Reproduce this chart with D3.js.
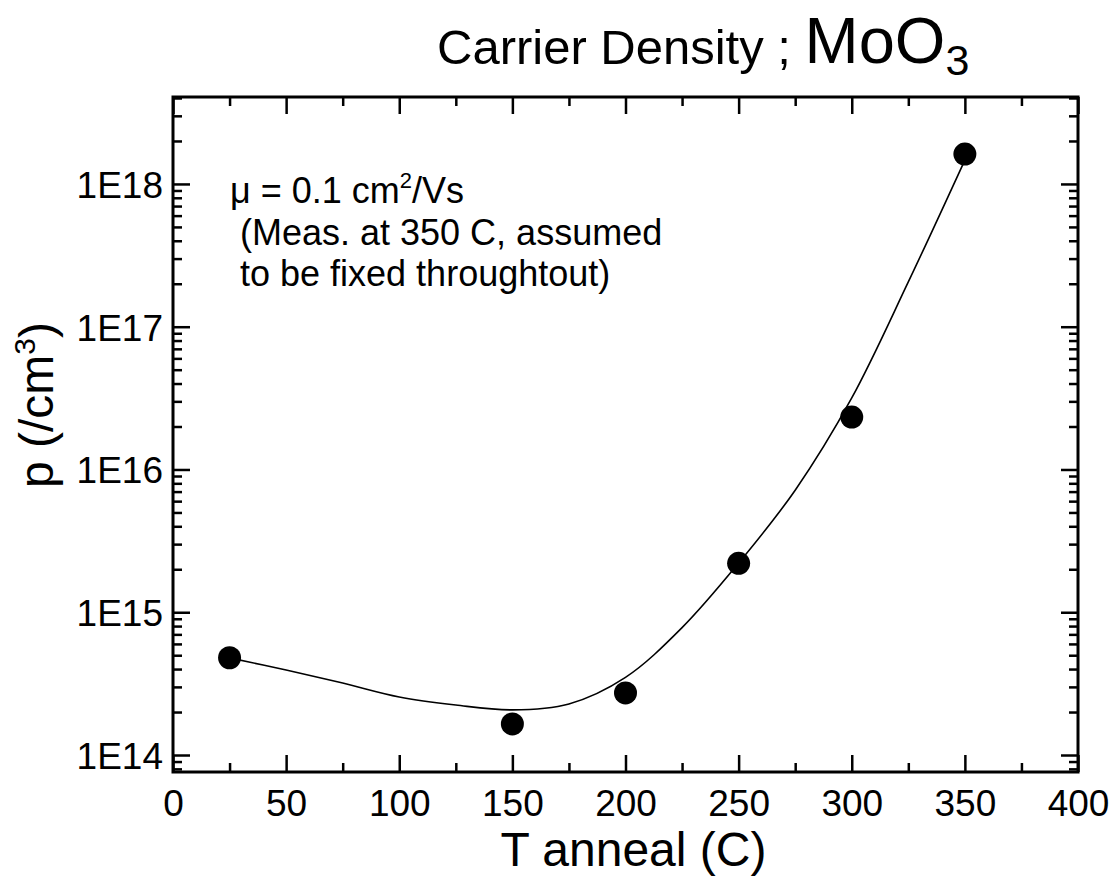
<!DOCTYPE html>
<html>
<head>
<meta charset="utf-8">
<script src="https://cdn.jsdelivr.net/npm/d3@7"></script>
<style>
  body { margin: 0; background: #fff; }
  text { font-family: Arial, "Liberation Sans", sans-serif; fill: #000; }
</style>
</head>
<body>
<svg id="chart" width="1120" height="878"></svg>
<script>
// measured points
let tempC = [25, 150, 200, 250, 300, 350];
let density = [4.8e14, 1.65e14, 2.72e14, 2.2e15, 2.33e16, 1.62e18];

// guide curve
let fitT = [25, 50, 75, 100, 125, 150, 175, 200, 225, 250, 275, 300, 325, 350];
let fitP = [4.79e14, 3.94e14, 3.19e14, 2.55e14, 2.24e14, 2.07e14, 2.28e14, 3.5e14, 7.8e14, 2.21e15, 7.16e15, 3.17e16, 2.06e17, 1.47e18];

let xTicks = [0, 50, 100, 150, 200, 250, 300, 350, 400];
let xMinor = [25, 75, 125, 175, 225, 275, 325, 375];
let yTicks = [1e14, 1e15, 1e16, 1e17, 1e18];

let svg = d3.select('#chart');
let pLeft = 173, pRight = 1078, pTop = 97, pBottom = 772;

let x = d3.scaleLinear().domain([0, 400]).range([pLeft, pRight]);
let y = d3.scaleLog().domain([Math.pow(10, 13.881), Math.pow(10, 18.609)]).range([pBottom, pTop]);

// minor log ticks 2..9 x 10^n inside the domain
let yMinor = [];
for (let e = 13; e <= 18; e++) {
    for (let m = 2; m <= 9; m++) {
        let v = m * Math.pow(10, e);
        if (v > y.domain()[0] && v < y.domain()[1]) yMinor.push(v);
    }
}

let styleAxis = g => {
    g.select('.domain').remove();
    g.selectAll('.tick line').attr('stroke', '#000').attr('stroke-width', 2.5);
};

// bottom axis with labels
svg.append('g')
    .attr('transform', `translate(0, ${pBottom})`)
    .call(d3.axisBottom(x).tickValues(xTicks).tickSize(-17).tickPadding(18).tickFormat(d3.format('d')))
    .call(styleAxis)
    .call(g => g.selectAll('text').attr('font-size', 37).attr('dy', '0.71em'));
svg.append('g')
    .attr('transform', `translate(0, ${pBottom})`)
    .call(d3.axisBottom(x).tickValues(xMinor).tickSize(-9).tickFormat(''))
    .call(styleAxis);
// top axis
svg.append('g')
    .attr('transform', `translate(0, ${pTop})`)
    .call(d3.axisTop(x).tickValues(xTicks).tickSize(-17).tickFormat(''))
    .call(styleAxis);
svg.append('g')
    .attr('transform', `translate(0, ${pTop})`)
    .call(d3.axisTop(x).tickValues(xMinor).tickSize(-9).tickFormat(''))
    .call(styleAxis);

// left axis with labels
svg.append('g')
    .attr('transform', `translate(${pLeft}, 0)`)
    .call(d3.axisLeft(y).tickValues(yTicks).tickSize(-17).tickPadding(10)
        .tickFormat(d => '1E' + Math.round(Math.log10(d))))
    .call(styleAxis)
    .call(g => g.selectAll('text').attr('font-size', 37).attr('dy', '0.36em'));
svg.append('g')
    .attr('transform', `translate(${pLeft}, 0)`)
    .call(d3.axisLeft(y).tickValues(yMinor).tickSize(-9).tickFormat(''))
    .call(styleAxis);
// right axis
svg.append('g')
    .attr('transform', `translate(${pRight}, 0)`)
    .call(d3.axisRight(y).tickValues(yTicks).tickSize(-17).tickFormat(''))
    .call(styleAxis);
svg.append('g')
    .attr('transform', `translate(${pRight}, 0)`)
    .call(d3.axisRight(y).tickValues(yMinor).tickSize(-9).tickFormat(''))
    .call(styleAxis);

// frame
svg.append('rect')
    .attr('x', pLeft).attr('y', pTop)
    .attr('width', pRight - pLeft).attr('height', pBottom - pTop)
    .attr('fill', 'none').attr('stroke', '#000').attr('stroke-width', 3);

// fit curve
let line = d3.line()
    .x((d, i) => x(fitT[i]))
    .y(d => y(d))
    .curve(d3.curveCatmullRom.alpha(0.5));
svg.append('path')
    .datum(fitP)
    .attr('d', line)
    .attr('fill', 'none')
    .attr('stroke', '#000')
    .attr('stroke-width', 1.6);

// points
svg.selectAll('.pt')
    .data(density)
    .join('circle')
    .classed('pt', true)
    .attr('cx', (d, i) => x(tempC[i]))
    .attr('cy', d => y(d))
    .attr('r', 11.5)
    .attr('fill', '#000');

// annotation
let note = svg.append('g').attr('font-size', 36);
let l1 = note.append('text').attr('x', 230).attr('y', 203);
l1.append('tspan').text('\u03bc = 0.1 cm');
l1.append('tspan').attr('font-size', 22).attr('dy', -15).text('2');
l1.append('tspan').attr('dy', 15).text('/Vs');
note.append('text').attr('x', 240).attr('y', 245).text('(Meas. at 350 C, assumed');
note.append('text').attr('x', 240).attr('y', 286).text('to be fixed throughtout)');

// title
let title = svg.append('text').attr('x', 437).attr('y', 64);
title.append('tspan').attr('font-size', 49).text('Carrier Density ; ');
title.append('tspan').attr('font-size', 65).attr('dy', -1).text('MoO');
title.append('tspan').attr('font-size', 43).attr('dy', 12).text('3');

// axis titles
svg.append('text')
    .attr('x', (pLeft + pRight) / 2 + 8).attr('y', 866)
    .attr('text-anchor', 'middle')
    .attr('font-size', 48)
    .text('T anneal (C)');

let yt = svg.append('text')
    .attr('transform', 'translate(53, 405) rotate(-90)')
    .attr('text-anchor', 'middle')
    .attr('font-size', 48);
yt.append('tspan').text('p (/cm');
yt.append('tspan').attr('font-size', 30).attr('dy', -18).text('3');
yt.append('tspan').attr('dy', 18).text(')');
</script>
</body>
</html>
